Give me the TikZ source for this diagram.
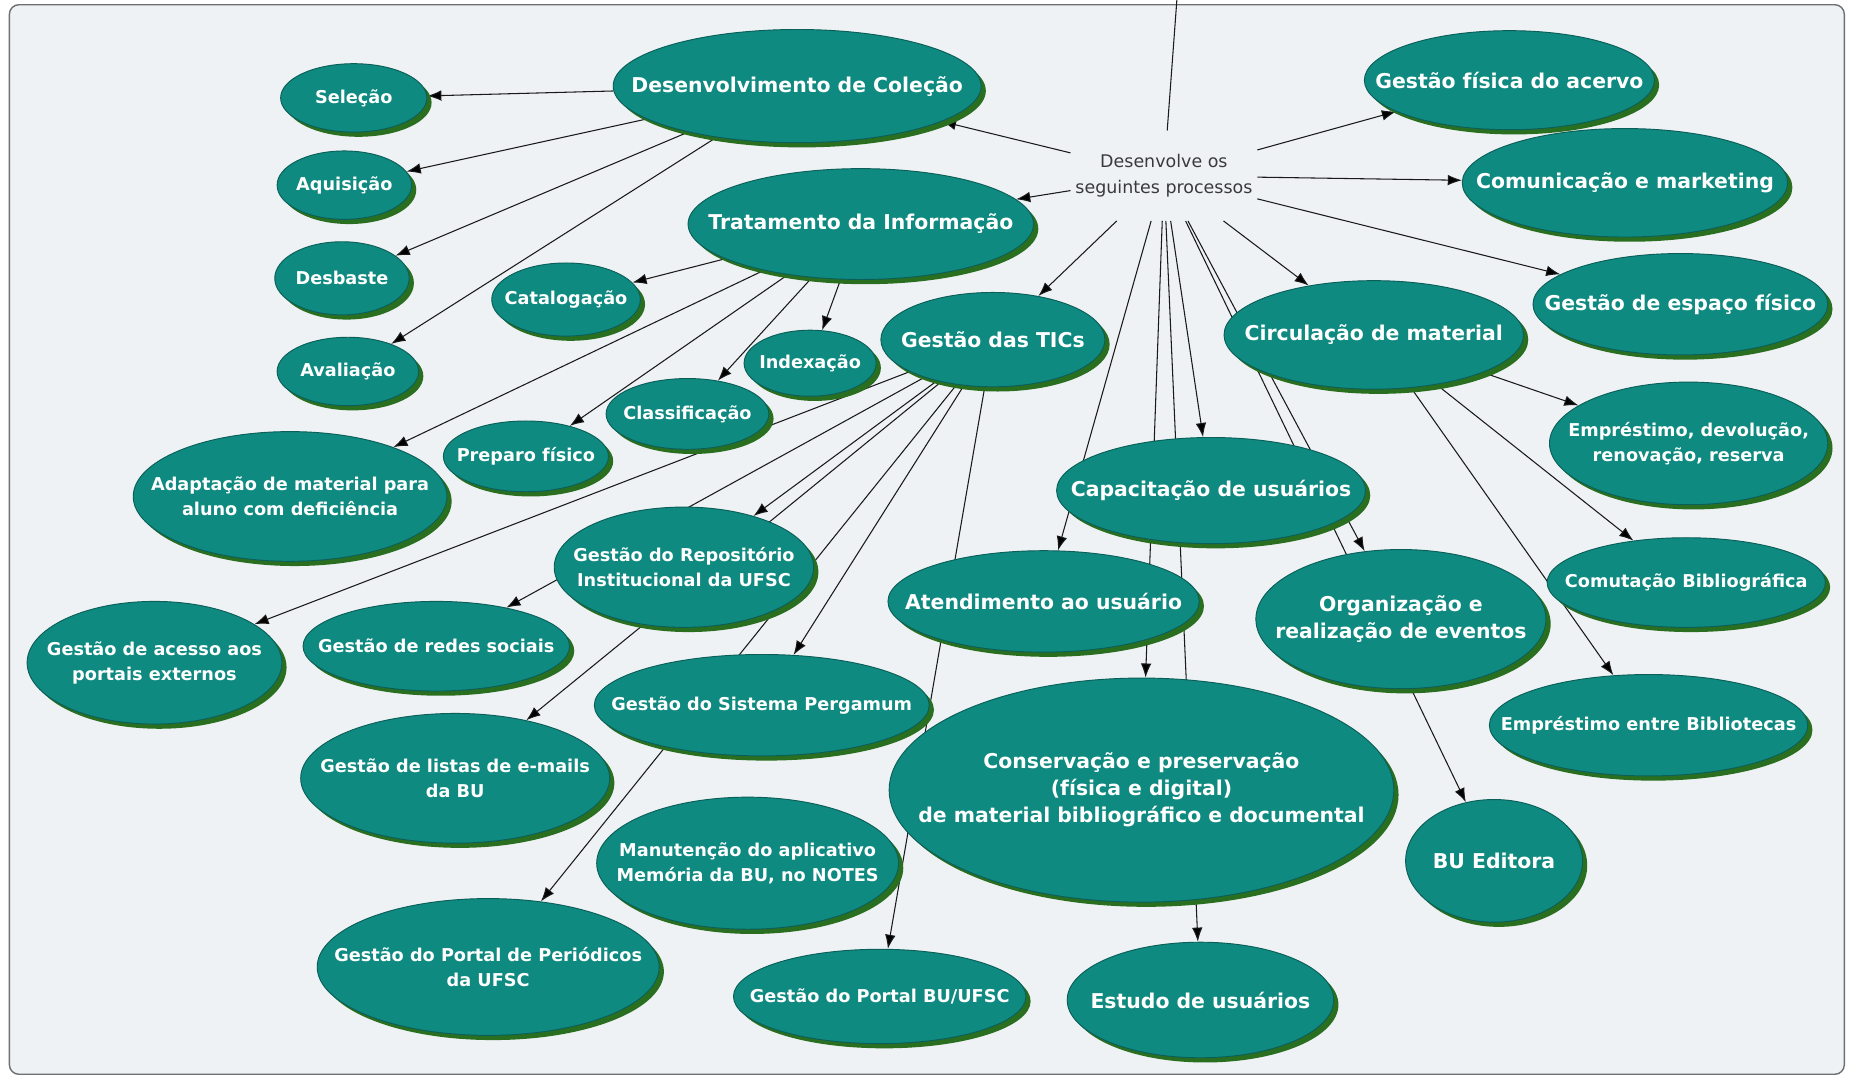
\documentclass[tikz,border=0pt]{standalone}
\usepackage{fontspec}
\setmainfont{DejaVu Sans}
\usetikzlibrary{arrows.meta,shapes.geometric,shadows}

\definecolor{conceptfill}{HTML}{0F8A80}
\definecolor{conceptline}{HTML}{0B5F59}
\definecolor{conceptshade}{HTML}{2A6F1F}
\definecolor{paper}{HTML}{EEF2F5}
\definecolor{framegray}{HTML}{707070}
\definecolor{linkgray}{HTML}{1A1A1A}
\definecolor{hubtext}{HTML}{3A3A3A}

\pgfdeclarelayer{back}
\pgfdeclarelayer{links}
\pgfsetlayers{back,links,main}

\tikzset{
  concept/.style={ellipse, draw=conceptline, line width=0.8pt, fill=conceptfill,
    inner sep=0pt,
    drop shadow={shadow xshift=4pt, shadow yshift=-4pt, fill=conceptshade, opacity=1}},
  ctext/.style={text=white, align=center, inner sep=0pt,
    font=\bfseries\fontsize{17.3}{23}\selectfont},
  ctextsmall/.style={ctext, font=\bfseries\fontsize{15}{21}\selectfont},
  dims/.style 2 args={minimum width=#1pt, minimum height=#2pt},
  big/.style={label={[ctext]center:{#1}}},
  small/.style={label={[ctextsmall]center:{#1}}},
  link/.style={draw=linkgray, line width=0.9pt, -{Latex[length=12pt,width=9pt]}},
  plain/.style={draw=linkgray, line width=0.9pt}
}

\begin{document}
\begin{tikzpicture}[x=1pt,y=-1pt]

\useasboundingbox (0,0) rectangle (1568,914);

\node [align=center, text=hubtext, inner xsep=4pt, inner ysep=20pt,
  font=\fontsize{14.8}{22}\selectfont] (hub) at (987,149) {Desenvolve os\\seguintes processos};
\coordinate (top) at (998,0);

% colecao
\node [concept, dims={312}{96}, big={Desenvolvimento de Coleção}] (dc) at (676,73) {};
\node [concept, dims={124}{58}, small={Seleção}] (sel) at (300,83) {};
\node [concept, dims={114}{58}, small={Aquisição}] (aqu) at (292,157) {};
\node [concept, dims={114}{62}, small={Desbaste}] (desb) at (290,236) {};
\node [concept, dims={120}{58}, small={Avaliação}] (aval) at (295,315) {};

% tratamento
\node [concept, dims={293}{94}, big={Tratamento da Informação}] (trat) at (730,190) {};
\node [concept, dims={126}{62}, small={Catalogação}] (cat) at (480,254) {};
\node [concept, dims={112}{56}, small={Indexação}] (idx) at (687,308) {};
\node [concept, dims={138}{60}, small={Classificação}] (cls) at (583,351) {};
\node [concept, dims={140}{60}, small={Preparo físico}] (prep) at (446,387) {};
\node [concept, dims={266}{110}, small={Adaptação de material para\\aluno com deficiência}] (adap) at (246,421) {};

% tics
\node [concept, dims={190}{80}, big={Gestão das TICs}] (tics) at (842,288) {};
\node [concept, dims={220}{102}, small={Gestão do Repositório\\Institucional da UFSC}] (repo) at (580,481) {};
\node [concept, dims={216}{104}, small={Gestão de acesso aos\\portais externos}] (acesso) at (131,562) {};
\node [concept, dims={226}{76}, small={Gestão de redes sociais}] (redes) at (370,548) {};
\node [concept, dims={284}{86}, small={Gestão do Sistema Pergamum}] (perg) at (646,598) {};
\node [concept, dims={262}{110}, small={Gestão de listas de e-mails\\da BU}] (listas) at (386,660) {};
\node [concept, dims={256}{112}, small={Manutenção do aplicativo\\Memória da BU, no NOTES}] (manut) at (634,732) {};
\node [concept, dims={290}{116}, small={Gestão do Portal de Periódicos\\da UFSC}] (portper) at (414,820) {};
\node [concept, dims={248}{80}, small={Gestão do Portal BU/UFSC}] (portbu) at (746,845) {};

% direita
\node [concept, dims={246}{84}, big={Gestão física do acervo}] (gfis) at (1280,68) {};
\node [concept, dims={276}{92}, big={Comunicação e marketing}] (com) at (1378,155) {};
\node [concept, dims={250}{86}, big={Gestão de espaço físico}] (esp) at (1425,258) {};
\node [concept, dims={254}{92}, big={Circulação de material}] (circ) at (1165,284) {};
\node [concept, dims={236}{104}, small={Empréstimo, devolução,\\renovação, reserva}] (empd) at (1432,376) {};
\node [concept, dims={236}{76}, small={Comutação Bibliográfica}] (comut) at (1430,494) {};
\node [concept, dims={270}{86}, small={Empréstimo entre Bibliotecas}] (empb) at (1398,615) {};

% usuarios
\node [concept, dims={262}{90}, big={Capacitação de usuários}] (cap) at (1027,416) {};
\node [concept, dims={264}{86}, big={Atendimento ao usuário}] (aten) at (885,510) {};
\node [concept, dims={246}{118}, big={Organização e\\realização de eventos}] (org) at (1188,525) {};
\node [concept, dims={428}{190}, big={Conservação e preservação\\(física e digital)\\de material bibliográfico e documental}] (cons) at (968,670) {};
\node [concept, dims={150}{104}, big={BU Editora}] (bued) at (1267,730) {};
\node [concept, dims={226}{98}, big={Estudo de usuários}] (estudo) at (1018,848) {};

\begin{pgfonlayer}{back}
\draw [framegray, fill=paper, line width=1.2pt, rounded corners=8pt] (8,4) rectangle (1564,911);
\end{pgfonlayer}

\begin{pgfonlayer}{links}
\draw [plain] (top) -- (hub);
\path [link] (hub) edge (dc) (hub) edge (trat) (hub) edge (gfis) (hub) edge (com)
  (hub) edge (esp) (hub) edge (circ) (hub) edge (tics) (hub) edge (cap)
  (hub) edge (aten) (hub) edge (cons) (hub) edge (estudo) (hub) edge (org)
  (hub) edge (bued);
\path [link] (dc) edge (sel) (dc) edge (aqu) (dc) edge (desb) (dc) edge (aval);
\path [link] (trat) edge (cat) (trat) edge (prep) (trat) edge (cls) (trat) edge (idx)
  (trat) edge (adap);
\path [link] (tics) edge (acesso) (tics) edge (redes) (tics) edge (repo) (tics) edge (listas)
  (tics) edge (perg) (tics) edge (portper) (tics) edge (portbu);
\path [link] (circ) edge (empd) (circ) edge (comut) (circ) edge (empb);
\end{pgfonlayer}

\end{tikzpicture}
\end{document}
